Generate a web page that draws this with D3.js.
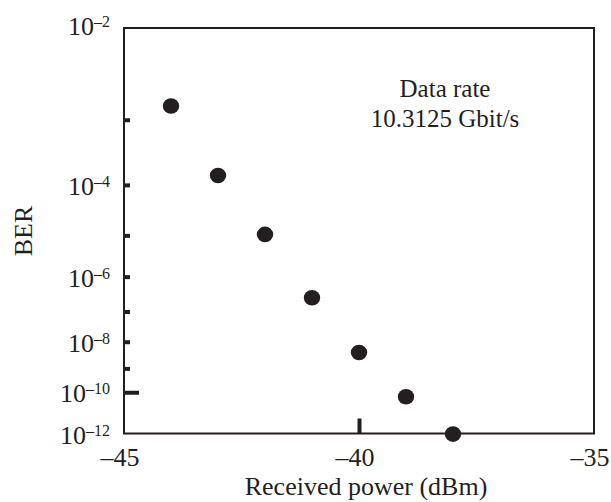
<!DOCTYPE html>
<html>
<head>
<meta charset="utf-8">
<script src="https://cdn.jsdelivr.net/npm/d3@7"></script>
<style>
  body { margin: 0; background: #fff; }
  text { font-family: "Liberation Serif", "Times New Roman", serif; fill: #231f20; }
</style>
</head>
<body>
<div id="chart"></div>
<script>
// data
var power = [-44, -43, -42, -41, -40, -39, -38];
var ber = [1.5e-3, 1.45e-4, 1.05e-5, 2.6e-7, 4.1e-9, 6.3e-11, 9.3e-13];
var xTicks = [-45, -40, -35];
var yTickExp = [3, 4, 5, 6, 7, 8, 9, 10];   // inner ticks at 10^-n
var yLabelExp = [2, 4, 6, 8, 10, 12];

var W = 611, H = 502;
var plotL = 124, plotR = 594, plotT = 28, plotB = 433.5;
var ink = '#231f20';

var svg = d3.select('#chart').append('svg').attr('width', W).attr('height', H);

var x = d3.scaleLinear().domain([-45, -35]).range([plotL, plotR]);
// BER axis: log of -log10(BER)
var y = d3.scaleLog().domain([2, 12]).range([plotT, plotB]);
function yBer(b){ return y(-Math.log10(b)); }

// y ticks (inward)
var yAxis = svg.append('g')
    .attr('transform', 'translate(' + plotL + ',0)')
    .call(d3.axisLeft(y).tickValues(yTickExp).tickSize(-6).tickSizeOuter(0).tickFormat(''));
yAxis.select('.domain').remove();
yAxis.selectAll('.tick line')
    .attr('stroke', ink).attr('stroke-width', 4)
    .attr('x2', function(d){ return d == 10 ? 15 : 6; });

// x ticks (inward, only at -40)
var xAxis = svg.append('g')
    .attr('transform', 'translate(0,' + plotB + ')')
    .call(d3.axisBottom(x).tickValues([-40]).tickSize(-15).tickSizeOuter(0).tickFormat(''));
xAxis.select('.domain').remove();
xAxis.selectAll('.tick line').attr('stroke', ink).attr('stroke-width', 4);

// frame
svg.append('rect')
    .attr('x', plotL).attr('y', plotT)
    .attr('width', plotR - plotL).attr('height', plotB - plotT)
    .attr('fill', 'none').attr('stroke', ink).attr('stroke-width', 2);

// y labels 10^-n
yLabelExp.forEach(function(e){
    var t = svg.append('text')
        .attr('x', 110)
        .attr('y', y(e) + (e == 2 ? 7 : 10))
        .attr('text-anchor', 'end')
        .style('font-size', '26px');
    t.append('tspan').text('10');
    t.append('tspan').attr('dy', -8).style('font-size', '16px').text('\u2013' + e);
});

// x labels
xTicks.forEach(function(v){
    svg.append('text')
        .attr('x', x(v) - 4)
        .attr('y', 466)
        .attr('text-anchor', 'middle')
        .style('font-size', '26px')
        .text('\u2013' + Math.abs(v));
});

// axis titles
svg.append('text')
    .attr('x', (plotL + plotR) / 2 + 7)
    .attr('y', 495)
    .attr('text-anchor', 'middle')
    .style('font-size', '26px')
    .text('Received power (dBm)');
svg.append('text')
    .attr('transform', 'translate(32,231) rotate(-90)')
    .attr('text-anchor', 'middle')
    .style('font-size', '26px')
    .text('BER');

// annotation
svg.append('text')
    .attr('x', 445).attr('y', 97)
    .attr('text-anchor', 'middle')
    .style('font-size', '25px')
    .text('Data rate');
svg.append('text')
    .attr('x', 445).attr('y', 127)
    .attr('text-anchor', 'middle')
    .style('font-size', '25px')
    .text('10.3125 Gbit/s');

// points
svg.selectAll('.pt')
    .data(power.map(function(p, i){ return [p, ber[i]]; }))
    .enter().append('ellipse')
    .attr('class', 'pt')
    .attr('cx', function(d){ return x(d[0]); })
    .attr('cy', function(d){ return yBer(d[1]); })
    .attr('rx', 8.2).attr('ry', 7.8)
    .attr('fill', ink);
</script>
</body>
</html>
